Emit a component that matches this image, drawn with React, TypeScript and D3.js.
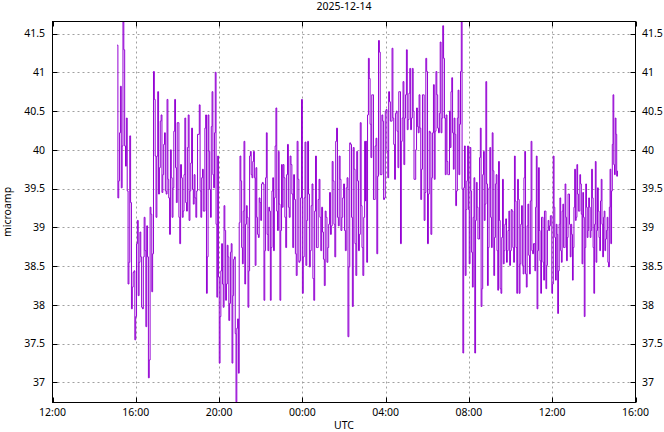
import React from "react";
import * as d3 from "d3";

const TITLE = "2025-12-14";
const Y_LABEL = "microamp";
const X_LABEL = "UTC";
const Y_TICKS = [37, 37.5, 38, 38.5, 39, 39.5, 40, 40.5, 41, 41.5];
// minutes since 2025-12-14 00:00 UTC
const X_TICKS = [720, 960, 1200, 1440, 1680, 1920, 2160, 2400];
const X_TICK_LABELS = ["12:00", "16:00", "20:00", "00:00", "04:00", "08:00", "12:00", "16:00"];
const Y_DOMAIN = [36.742, 41.655];
const X_DOMAIN = [720, 2400];

// segments of the record: start / end time (minutes since 2025-12-14 00:00 UTC)
const SEG_START = [906, 1143, 1382, 1623, 1866, 2110];
const SEG_END = [1138, 1380, 1622, 1864, 2106, 2348];

const seg1 = [41.35, 39.38, 39.60, 40.22, 40.82, 39.51, 40.05, 41.65, 41.29, 40.05, 39.79, 40.41, 39.47, 38.27, 38.55, 40.18, 39.32, 37.95, 38.23, 38.42, 38.44, 37.55, 37.85, 38.79, 39.09, 38.12, 38.55, 38.94, 38.62, 37.97, 37.95, 38.62, 39.13, 38.70, 37.72, 39.02, 38.62, 37.06, 37.29, 39.26, 39.17, 38.17, 38.66, 41.01, 40.65, 39.92, 39.13, 39.92, 40.75, 39.43, 39.77, 40.37, 40.45, 39.45, 39.68, 40.07, 40.22, 39.47, 39.43, 40.65, 39.62, 39.38, 38.91, 40.0, 39.64, 39.13, 39.51, 40.24, 40.65, 39.77, 39.32, 40.35, 40.35, 39.13, 38.79, 39.81, 39.64, 39.13, 39.21, 39.68, 40.41, 39.32, 39.21, 40.03, 40.45, 39.09, 39.47, 39.83, 40.28, 39.49, 39.30, 39.68, 39.38, 39.13, 39.47, 40.20];
const seg2 = [40.58, 39.47, 39.13, 39.64, 39.75, 39.21, 39.21, 40.28, 40.45, 38.15, 38.62, 40.45, 39.98, 39.49, 39.13, 40.30, 40.75, 39.68, 39.51, 40.22, 41.0, 39.04, 38.10, 39.92, 38.36, 37.25, 37.85, 38.44, 38.79, 38.27, 37.97, 39.28, 38.96, 38.06, 38.27, 38.77, 38.62, 37.80, 38.02, 38.68, 38.79, 37.25, 38.12, 38.59, 38.62, 37.63, 36.75, 37.70, 37.82, 37.12, 39.06, 39.92, 39.60, 38.74, 38.53, 39.21, 40.11, 38.27, 39.04, 39.28, 39.13, 37.97, 38.44, 39.92, 39.98, 39.68, 39.64, 39.85, 39.98, 39.64, 38.51, 39.77, 39.13, 38.91, 38.87, 39.38, 39.32, 39.09, 39.56, 39.58, 39.56, 38.06, 38.70, 39.64, 40.22, 38.91, 38.70, 39.26, 39.21, 38.06, 38.74, 39.47, 39.64, 38.70, 39.38, 40.05, 40.54, 39.21, 38.96, 39.98, 39.30, 38.06, 38.96, 39.81];
const seg3 = [39.26, 39.81, 39.64, 39.13, 38.74, 39.68, 40.07, 39.26, 39.13, 39.92, 39.81, 39.43, 38.74, 39.68, 39.36, 38.66, 38.38, 40.11, 39.62, 38.55, 38.57, 39.38, 40.65, 38.15, 38.62, 39.38, 40.10, 38.51, 39.09, 40.11, 39.43, 38.49, 38.70, 39.28, 39.56, 38.34, 38.06, 39.21, 39.92, 38.74, 38.74, 39.36, 39.62, 39.13, 38.70, 39.26, 38.94, 38.59, 38.25, 39.21, 39.13, 38.55, 38.74, 39.04, 39.45, 38.91, 39.02, 39.85, 39.60, 39.04, 38.62, 40.11, 40.28, 39.13, 39.02, 39.92, 39.62, 38.96, 39.13, 39.38, 39.56, 38.96, 38.70, 39.51, 39.64, 37.59, 38.49, 40.09, 40.07, 39.13, 37.98, 40.03, 39.75, 38.79, 38.38, 39.98, 39.60, 38.70, 38.91, 40.35, 39.28, 38.74, 38.38, 39.13, 40.11, 39.34];
const seg4 = [40.11, 38.55, 40.45, 41.18, 40.92, 40.33, 39.90, 40.71, 40.71, 39.36, 39.36, 40.05, 40.15, 38.66, 39.66, 41.41, 41.26, 39.68, 39.68, 40.45, 40.37, 39.36, 39.38, 40.50, 40.52, 39.98, 39.64, 40.75, 40.62, 40.37, 40.37, 41.31, 40.41, 40.07, 39.62, 40.47, 40.50, 40.24, 39.77, 40.75, 40.75, 38.79, 40.11, 40.41, 40.88, 39.81, 40.41, 40.71, 41.29, 40.26, 40.39, 40.73, 41.05, 40.26, 40.41, 41.05, 40.50, 39.62, 39.62, 40.0, 40.54, 40.30, 40.22, 40.71, 40.28, 39.36, 39.75, 40.71, 40.71, 39.09, 39.45, 41.18, 41.01, 38.79, 39.43, 40.24, 40.22, 38.91, 39.64, 40.22, 40.84, 39.62, 40.24, 41.01, 40.71, 40.28, 40.22, 40.47, 41.39, 40.22, 40.41, 41.60, 41.18, 40.41, 39.68, 40.45, 39.85, 39.68, 39.68, 40.50];
const seg5 = [40.03, 40.75, 40.93, 40.22, 39.75, 40.41, 40.20, 39.28, 39.47, 40.41, 40.77, 39.68, 40.33, 41.01, 41.65, 39.49, 37.38, 39.51, 40.05, 38.38, 39.23, 39.60, 40.05, 39.23, 38.53, 40.03, 39.47, 38.68, 38.23, 39.13, 39.64, 37.38, 39.09, 39.58, 39.26, 38.85, 38.85, 39.90, 40.28, 37.98, 38.21, 39.68, 39.98, 39.09, 39.30, 40.88, 39.56, 38.25, 38.74, 39.51, 40.03, 39.13, 38.74, 40.22, 39.73, 38.38, 38.87, 39.56, 39.68, 38.70, 38.19, 39.85, 39.09, 38.21, 38.15, 38.87, 39.62, 38.53, 38.70, 39.04, 39.11, 38.55, 38.70, 38.96, 39.21, 38.51, 38.70, 39.23, 39.21, 38.74, 38.55, 39.92, 39.34, 38.74, 38.15, 39.62, 39.36, 38.15, 38.53, 39.04, 39.28, 38.51, 38.40, 39.64, 39.98, 38.40, 38.23, 39.02, 39.30, 38.64, 38.40, 39.34, 40.11, 38.70, 38.66, 38.79];
const seg6 = [38.44, 39.26, 39.92, 37.95, 38.70, 39.77, 38.96, 38.57, 38.15, 39.13, 39.13, 38.55, 38.32, 39.21, 39.21, 38.21, 38.51, 38.96, 39.09, 38.96, 39.02, 39.15, 39.15, 38.15, 38.27, 39.92, 39.26, 38.87, 38.32, 39.04, 38.91, 37.89, 38.44, 39.04, 39.38, 38.70, 38.55, 39.21, 39.30, 38.74, 38.74, 39.56, 39.13, 38.57, 38.87, 39.43, 39.43, 39.04, 38.62, 39.04, 38.91, 38.32, 38.74, 39.26, 39.75, 39.09, 39.13, 39.81, 39.43, 39.21, 39.21, 39.68, 39.56, 39.17, 38.53, 39.45, 39.13, 37.85, 38.74, 39.56, 39.26, 38.87, 38.96, 39.38, 39.26, 38.87, 38.96, 39.75, 39.38, 38.74, 38.15, 39.04, 39.85, 38.55, 38.96, 39.51, 39.21, 38.87, 38.70, 39.34, 39.62, 39.04, 38.62, 39.13, 39.21, 38.70, 38.85, 38.96, 39.13, 38.55, 38.49, 39.26, 39.75, 38.79, 39.47, 40.07, 40.71, 39.81, 39.68, 40.41, 40.20, 39.66, 39.73];

const SEGMENTS = [seg1, seg2, seg3, seg4, seg5, seg6];

const W = 664;
const H = 432;
const L = 52.5;
const R = 635.5;
const T = 21.5;
const B = 402.5;
const FONT = "'Noto Sans', 'Open Sans', sans-serif";
const FS = 10.5;
const LINE_COLOR = "#9400d3";

export default function App() {
  const x = d3.scaleLinear().domain(X_DOMAIN).range([L, R]);
  const y = d3.scaleLinear().domain(Y_DOMAIN).range([B, T]);

  const points: [number, number][] = [];
  SEGMENTS.forEach((vals, s) => {
    const t0 = SEG_START[s];
    const t1 = SEG_END[s];
    vals.forEach((v, i) => {
      const t = vals.length > 1 ? t0 + ((t1 - t0) * i) / (vals.length - 1) : t0;
      points.push([t, v]);
    });
  });

  const line = d3
    .line<[number, number]>()
    .x((d) => x(d[0]))
    .y((d) => y(d[1]))
    .curve(d3.curveStepAfter);

  const tick = 5;

  return (
    <svg
      width={W}
      height={H}
      style={{ position: "absolute", left: 0, top: 0, background: "#fff" }}
      fontFamily={FONT}
      fontSize={FS}
    >
      <rect x={0} y={0} width={W} height={H} fill="#fff" />
      <defs>
        <clipPath id="plotclip">
          <rect x={L} y={T} width={R - L} height={B - T} />
        </clipPath>
      </defs>
      {/* grid */}
      <g stroke="#a0a0a0" strokeWidth={1} strokeDasharray="2,3">
        {Y_TICKS.map((v) => (
          <line key={"gy" + v} x1={L} x2={R} y1={Math.round(y(v)) + 0.5} y2={Math.round(y(v)) + 0.5} />
        ))}
        {X_TICKS.slice(1, -1).map((t) => (
          <line key={"gx" + t} x1={Math.round(x(t)) + 0.5} x2={Math.round(x(t)) + 0.5} y1={T} y2={B} />
        ))}
      </g>
      {/* data */}
      <path
        d={line(points) || ""}
        fill="none"
        stroke={LINE_COLOR}
        strokeWidth={1}
        clipPath="url(#plotclip)"
      />
      {/* ticks */}
      <g stroke="#000" strokeWidth={1}>
        {Y_TICKS.map((v) => {
          const yy = Math.round(y(v)) + 0.5;
          return (
            <g key={"ty" + v}>
              <line x1={L} x2={L + tick} y1={yy} y2={yy} />
              <line x1={R} x2={R - tick} y1={yy} y2={yy} />
            </g>
          );
        })}
        {X_TICKS.map((t) => {
          const xx = Math.round(x(t)) + 0.5;
          return (
            <g key={"tx" + t}>
              <line x1={xx} x2={xx} y1={B} y2={B - tick} />
              <line x1={xx} x2={xx} y1={T} y2={T + tick} />
            </g>
          );
        })}
      </g>
      {/* border */}
      <rect x={L} y={T} width={R - L} height={B - T} fill="none" stroke="#000" strokeWidth={1} />
      {/* tick labels */}
      <g fill="#000">
        {Y_TICKS.map((v) => (
          <g key={"ly" + v}>
            <text x={45} y={y(v)} dy="0.35em" textAnchor="end">
              {String(v)}
            </text>
            <text x={642} y={y(v)} dy="0.35em" textAnchor="start">
              {String(v)}
            </text>
          </g>
        ))}
        {X_TICKS.map((t, i) => (
          <text key={"lx" + t} x={x(t)} y={416} textAnchor="middle">
            {X_TICK_LABELS[i]}
          </text>
        ))}
        <text x={(L + R) / 2} y={10} textAnchor="middle">
          {TITLE}
        </text>
        <text x={(L + R) / 2} y={429} textAnchor="middle">
          {X_LABEL}
        </text>
        <text transform={`translate(11,${(T + B) / 2}) rotate(-90)`} textAnchor="middle">
          {Y_LABEL}
        </text>
      </g>
    </svg>
  );
}
